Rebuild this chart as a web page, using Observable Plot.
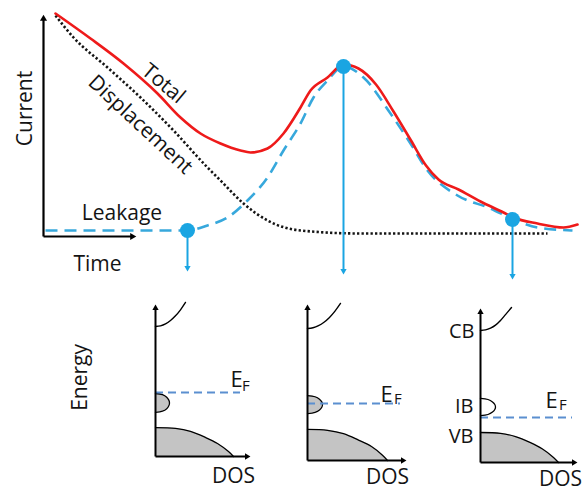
<!DOCTYPE html>
<html><head><meta charset="utf-8">
<script src="https://cdn.jsdelivr.net/npm/d3@7"></script>
<script src="https://cdn.jsdelivr.net/npm/@observablehq/plot@0.6"></script>
<style>
body{margin:0;background:#fff;}
#chart{position:relative;width:587px;height:492px;overflow:hidden;background:#fff;}
#chart svg{position:absolute;left:0;top:0;}
</style></head><body><div id="chart"></div>
<script>
// ---------- Top panel: time (a.u.) vs current (a.u.) ----------
const totalCurrent = [[2.4,111.5],[9.4,99],[16,86.5],[22.8,71.5],[27.4,59.5],[31.4,51.5],[35.4,46.5],[39.4,43],[41.4,42],[44.8,44],[48,51.5],[51.4,64.5],[53.4,73],[56.8,79.5],[60,86],[63,84],[66.5,76],[70,62.5],[73.5,48],[76.5,35.5],[79,28.5],[83,23.5],[87.4,17.5],[92,12],[94,9.5],[98.8,6.5],[104,4.5],[106.8,6]];
const leakageCurrent = [[0.4,3],[28.8,3],[32.8,5.5],[36.8,9.5],[40.8,18],[44.8,29.5],[48,43],[51.4,56.5],[54,69.5],[56.8,78],[60,85],[64,79.5],[69.4,61.5],[73.4,46.5],[76.8,33],[82.8,20.5],[89.4,14],[94,8.5],[98.8,4.5],[105.8,3]];
const displacementCurrent = [[2.4,110.5],[6,99.5],[12.8,84.5],[19.4,69.5],[26,53],[32.8,34.5],[35.4,28],[40,16.5],[44.8,8],[51.4,3],[63.4,1.5],[100.8,1.5]];
const probeTimes = [28.8, 60, 93.8];
const probeCurrents = [3, 85, 8.5];
const probeArrowTips = [-18, -19.5, -22];
const topAxisTips = {time: 18.8, current: 111.5};
const topLabels = [
  {text:"Current", t:-3.7, c:64, rot:-90},
  {text:"Total", t:24, c:76.5, rot:40},
  {text:"Displacement", t:19.4, c:56, rot:43},
  {text:"Leakage", t:15.7, c:11.85, rot:0},
  {text:"Time", t:10.8, c:-13.7, rot:0}
];

// ---------- Bottom panels: DOS (a.u.) vs energy (a.u.) ----------
const cb1 = [[0,86.7],[5,87.1],[10,88.4],[15,90.7],[20,93.8],[25,97.8],[30,102.7]];
const cb2 = [[0,88],[5.5,88.5],[11,89.9],[16.5,92.2],[22,95.4],[27.5,99.6],[33,104.7]];
const cb3 = [[0,88],[5,88.4],[10,89.6],[15,91.6],[20,94.7],[25,98.6],[31,103.3]];
const ib1 = [[0,42.0],[7,41.2],[11.2,39.5],[13.3,37.6],[14,35.7],[13.3,33.8],[11.2,31.9],[7,30.2],[0,29.4]];
const ib2 = [[0,43.3],[7.5,42.5],[12,40.9],[14.3,39.1],[15,37.3],[14.3,35.5],[12,33.7],[7.5,32.1],[0,31.3]];
const ib3 = [[0,42.7],[7.5,42.0],[12,40.4],[14.3,38.7],[15,37],[14.3,35.3],[12,33.6],[7.5,32.0],[0,31.3]];
const vb1 = [[0,19.3],[20,18.7],[35,16.7],[50,12.7],[62,8.7],[73,3.3],[78,0]];
const vb2 = [[0,20.7],[20,20.1],[36,17.9],[51,13.6],[64,9.3],[75,3.5],[80,0]];
const vb3 = [[0,20],[20,19.4],[35,17.3],[50,13.2],[62,9],[73,3.4],[78,0]];
const fermiLevels = [42.7, 38, 30];
const fermiEnds = [85, 93, 92];
const energyTips = [102, 104.7, 103.3];
const dosTips = [96, 100, 98];

const RED="#ee1a1a", CYAN="#1aa5e2", DASHBLUE="#37a8dc", EFBLUE="#5b8fd0", GREY="#c4c4c4", INK="#141414";
const FONT='"Open Sans", sans-serif';
const W=587, H=492;

function headOffset(r){ const s=Math.sqrt(4*Math.PI*r*r/Math.sqrt(3)); return s*Math.sqrt(3)/3; }

const px = d=>d[0], py = d=>d[1];

// ---------- top plot ----------
const kxT=5, kyT=2, rAx=3.4, rPr=3;
const offAx=headOffset(rAx), offPr=headOffset(rPr);
const topAxes = [
  {x1:0,y1:0,x2:0,y2:topAxisTips.current-offAx/kyT, hx:0, hy:topAxisTips.current-offAx/kyT, rot:0},
  {x1:0,y1:0,x2:topAxisTips.time-offAx/kxT,y2:0, hx:topAxisTips.time-offAx/kxT, hy:0, rot:90}
];
const probes = probeTimes.map((t,i)=>({t, c:probeCurrents[i], head:probeArrowTips[i]+offPr/kyT}));

const topPlot = Plot.plot({
  width:W, height:H, margin:0,
  x:{domain:[0,107], range:[43,578], axis:null},
  y:{domain:[0,112], range:[236,12], axis:null},
  style:{background:"transparent", fontFamily:FONT},
  marks:[
    Plot.line(displacementCurrent,{x:px,y:py,stroke:INK,strokeWidth:2.6,strokeDasharray:"2.3 2.2",strokeLinecap:"butt",curve:"monotone-x"}),
    Plot.line(leakageCurrent,{x:px,y:py,stroke:DASHBLUE,strokeWidth:2.6,strokeDasharray:"12 7",strokeLinecap:"butt",curve:"monotone-x"}),
    Plot.line(totalCurrent,{x:px,y:py,stroke:RED,strokeWidth:2.6,curve:"monotone-x"}),
    Plot.link(topAxes,{x1:"x1",y1:"y1",x2:"x2",y2:"y2",stroke:"#000",strokeWidth:2.2}),
    Plot.dot(topAxes,{x:"hx",y:"hy",symbol:"triangle2",r:rAx,fill:"#000",stroke:null,rotate:"rot"}),
    Plot.link(probes,{x1:"t",y1:"c",x2:"t",y2:"head",stroke:CYAN,strokeWidth:2}),
    Plot.dot(probes,{x:"t",y:"head",symbol:"triangle2",r:rPr,fill:CYAN,stroke:null,rotate:180}),
    Plot.dot(probes,{x:"t",y:"c",r:7.5,fill:CYAN,stroke:null}),
    Plot.text(topLabels,{x:"t",y:"c",text:"text",rotate:"rot",fontSize:21,fill:INK,textAnchor:"middle",lineAnchor:"middle",fontFamily:FONT})
  ]
});

// ---------- DOS panels ----------
const panels = [
  {origin:[155,456], cb:cb1, ib:ib1, ibFill:GREY, vb:vb1, ef:fermiLevels[0], efEnd:fermiEnds[0], eTip:energyTips[0], dTip:dosTips[0],
   E:[75,50.7], F:[86.6,47.2], dos:[78,-12.9],
   side:[{text:"Energy", x:-75.5, y:52.7, rot:-90}], sideAnchor:"middle"},
  {origin:[307,460], cb:cb2, ib:ib2, ibFill:GREY, vb:vb2, ef:fermiLevels[1], efEnd:fermiEnds[1], eTip:energyTips[1], dTip:dosTips[1],
   E:[73,43.5], F:[86.6,41.2], dos:[80,-10.9], side:[], sideAnchor:"end"},
  {origin:[480,462], cb:cb3, ib:ib3, ibFill:"#fff", vb:vb3, ef:fermiLevels[2], efEnd:fermiEnds[2], eTip:energyTips[2], dTip:dosTips[2],
   E:[65,40.7], F:[78.6,37.9], dos:[80,-10.9],
   side:[{text:"CB", x:-6, y:87.1, rot:0},{text:"IB", x:-7, y:37.1, rot:0},{text:"VB", x:-7, y:17.1, rot:0}], sideAnchor:"end"}
];

function dosPanel(p){
  const kx=1, ky=1.5, r=3;
  const off=headOffset(r);
  const [ox,oy]=p.origin;
  const axes=[
    {x1:0,y1:0,x2:0,y2:p.eTip-off/ky,hx:0,hy:p.eTip-off/ky,rot:0},
    {x1:0,y1:0,x2:p.dTip-off/kx,y2:0,hx:p.dTip-off/kx,hy:0,rot:90}
  ];
  return Plot.plot({
    width:W, height:H, margin:0,
    x:{domain:[0,100], range:[ox,ox+100], axis:null},
    y:{domain:[0,100], range:[oy,oy-150], axis:null},
    style:{background:"transparent", fontFamily:FONT},
    marks:[
      Plot.areaX(p.vb,{y:py,x1:0,x2:px,fill:GREY,curve:"catmull-rom"}),
      Plot.line(p.vb,{x:px,y:py,stroke:"#000",strokeWidth:1.3,curve:"catmull-rom"}),
      Plot.areaX(p.ib,{y:py,x1:0,x2:px,fill:p.ibFill,curve:"catmull-rom"}),
      Plot.line(p.ib,{x:px,y:py,stroke:"#000",strokeWidth:1.3,curve:"catmull-rom"}),
      Plot.line(p.cb,{x:px,y:py,stroke:"#000",strokeWidth:1.4,curve:"catmull-rom"}),
      Plot.ruleY([p.ef],{x1:0,x2:p.efEnd,stroke:EFBLUE,strokeWidth:2,strokeDasharray:"8 5"}),
      Plot.link(axes,{x1:"x1",y1:"y1",x2:"x2",y2:"y2",stroke:"#000",strokeWidth:2}),
      Plot.dot(axes,{x:"hx",y:"hy",symbol:"triangle2",r,fill:"#000",stroke:null,rotate:"rot"}),
      Plot.text([p.E],{x:px,y:py,text:()=>"E",fontSize:22,fill:INK,textAnchor:"start",lineAnchor:"middle",fontFamily:FONT}),
      Plot.text([p.F],{x:px,y:py,text:()=>"F",fontSize:15,fill:INK,textAnchor:"start",lineAnchor:"middle",fontFamily:FONT}),
      Plot.text([p.dos],{x:px,y:py,text:()=>"DOS",fontSize:21,fill:INK,textAnchor:"middle",lineAnchor:"middle",fontFamily:FONT}),
      Plot.text(p.side,{x:"x",y:"y",text:"text",rotate:"rot",fontSize:p.sideAnchor==="end"?20:21,fill:INK,textAnchor:p.sideAnchor,lineAnchor:"middle",fontFamily:FONT})
    ]
  });
}

const root=document.getElementById("chart");
root.appendChild(topPlot);
panels.forEach(p=>root.appendChild(dosPanel(p)));
</script></body></html>
